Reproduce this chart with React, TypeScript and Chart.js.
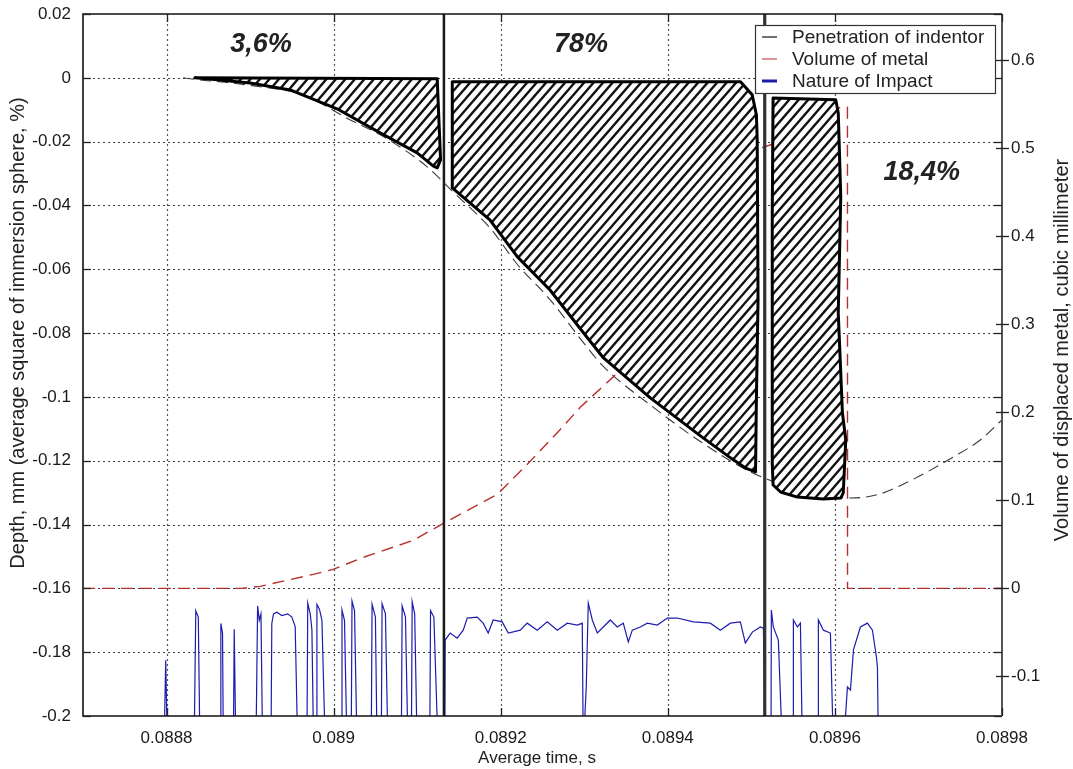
import React, { useEffect, useRef } from 'react';
import { Chart, registerables } from 'chart.js';

Chart.register(...registerables);

const FONT = '"Liberation Sans", Arial, Helvetica, sans-serif';

// ---- axes ----
const xTickValues = [0.0888, 0.089, 0.0892, 0.0894, 0.0896, 0.0898];
const xTickLabels = ['0.0888', '0.089', '0.0892', '0.0894', '0.0896', '0.0898'];
const yTickValues = [0.02, 0, -0.02, -0.04, -0.06, -0.08, -0.1, -0.12, -0.14, -0.16, -0.18, -0.2];
const yTickLabels = ['0.02', '0', '-0.02', '-0.04', '-0.06', '-0.08', '-0.1', '-0.12', '-0.14', '-0.16', '-0.18', '-0.2'];
const y2TickValues = [0.6, 0.5, 0.4, 0.3, 0.2, 0.1, 0, -0.1];
const y2TickLabels = ['0.6', '0.5', '0.4', '0.3', '0.2', '0.1', '0', '-0.1'];

const xTitle = 'Average time, s';
const yTitle = 'Depth, mm (average square of immersion sphere, %)';
const y2Title = 'Volume of displaced metal, cubic millimeter';
const seriesNames = ['Penetration of indentor', 'Volume of metal', 'Nature of Impact'];

// ---- Penetration of indentor (left axis) ----
const penetrationTime = [0.08882, 0.088837, 0.08887, 0.088912, 0.088963, 0.08902, 0.08906, 0.089112, 0.089142, 0.089187, 0.08922, 0.089259, 0.089299, 0.089323, 0.089379, 0.089439, 0.089499, 0.089559, 0.089619, 0.089654, 0.089687, 0.089742, 0.089774, 0.0898];
const penetrationDepth = [0, -0.0006, -0.0014, -0.0028, -0.0053, -0.0132, -0.0185, -0.0279, -0.0355, -0.047, -0.0585, -0.0695, -0.083, -0.0905, -0.1025, -0.114, -0.1235, -0.1292, -0.1317, -0.1304, -0.1267, -0.1188, -0.1135, -0.1072];

// ---- Volume of metal (right axis) ----
const volumeTime = [0.0887, 0.08889, 0.088912, 0.0889755, 0.0889994, 0.0890353, 0.0890952, 0.0891335, 0.0891958, 0.0892353, 0.0892748, 0.0892952, 0.0893252, 0.0893575, 0.0894389, 0.0895072, 0.0895251, 0.0895587, 0.0896066, 0.089615, 0.0896151, 0.0898];
const volumeValue = [0, 0, 0.0023, 0.0159, 0.0216, 0.0352, 0.0545, 0.075, 0.1068, 0.1443, 0.1841, 0.2057, 0.232, 0.26, 0.38, 0.499, 0.5045, 0.5216, 0.5466, 0.5466, 0, 0];

// ---- Nature of Impact (left axis) ----
const impactTime = [
  0.088797, 0.088799, 0.088801,
  0.088833, 0.088835, 0.088838, 0.08884,
  0.088864, 0.088865, 0.088867, 0.088868,
  0.08888, 0.088881, 0.088883,
  0.088907, 0.088909, 0.088911, 0.088913, 0.088915,
  0.088925, 0.088926, 0.088928, 0.088932, 0.088938, 0.088945, 0.08895, 0.088954, 0.088957,
  0.088968, 0.088969, 0.088972, 0.088974, 0.088976,
  0.088979, 0.08898, 0.088983, 0.088986, 0.08899,
  0.089009, 0.08901, 0.089013, 0.089016,
  0.089021, 0.089022, 0.089025, 0.089028,
  0.089045, 0.089046, 0.08905, 0.089052,
  0.089057, 0.089058, 0.089062, 0.089065,
  0.089081, 0.089082, 0.089086, 0.089089,
  0.089093, 0.089094, 0.089097, 0.0891,
  0.089115, 0.089116, 0.08912, 0.089125,
  0.089133, 0.0891335, 0.0891395, 0.0891479, 0.0891551, 0.0891599, 0.0891718, 0.089179, 0.089185, 0.089191, 0.0892018, 0.089209, 0.0892234, 0.0892317, 0.0892437, 0.0892557, 0.0892677, 0.0892796, 0.0892916, 0.0892976,
  0.0892988, 0.0893024, 0.0893048, 0.0893096, 0.0893156, 0.0893228, 0.0893311, 0.0893395, 0.0893467, 0.0893527, 0.0893575, 0.0893671, 0.0893754, 0.0893874, 0.0893994, 0.0894114, 0.0894305, 0.0894509, 0.0894629, 0.0894748, 0.0894868, 0.0894928, 0.0895012, 0.0895108, 0.0895144, 0.0895168,
  0.0895235, 0.0895239, 0.0895263, 0.0895323, 0.0895371,
  0.08955, 0.0895503, 0.0895551, 0.0895587, 0.0895611,
  0.08958, 0.0895802, 0.0895862, 0.0895946, 0.0895982,
  0.0896102, 0.089615, 0.0896186, 0.0896222, 0.0896305, 0.0896389, 0.0896449, 0.0896497, 0.0896509, 0.0896521,
];
const impactValue = [
  -0.21, -0.1825, -0.21,
  -0.21, -0.167, -0.169, -0.21,
  -0.21, -0.171, -0.174, -0.21,
  -0.21, -0.1728, -0.21,
  -0.21, -0.1655, -0.17, -0.168, -0.21,
  -0.21, -0.171, -0.168, -0.1675, -0.1685, -0.168, -0.169, -0.172, -0.21,
  -0.21, -0.1646, -0.168, -0.173, -0.21,
  -0.21, -0.165, -0.1665, -0.17, -0.21,
  -0.21, -0.1668, -0.17, -0.21,
  -0.21, -0.164, -0.167, -0.21,
  -0.21, -0.165, -0.169, -0.21,
  -0.21, -0.1648, -0.168, -0.21,
  -0.21, -0.1655, -0.169, -0.21,
  -0.21, -0.1642, -0.168, -0.21,
  -0.21, -0.167, -0.169, -0.21,
  -0.21, -0.1762, -0.174, -0.1756, -0.1731, -0.1693, -0.169, -0.1709, -0.174, -0.1699, -0.1705, -0.174, -0.1731, -0.1709, -0.1731, -0.1705, -0.1731, -0.1709, -0.1715, -0.1709,
  -0.21, -0.1909, -0.1646, -0.1699, -0.174, -0.1721, -0.1699, -0.1721, -0.1709, -0.1768, -0.1731, -0.1721, -0.1709, -0.1715, -0.1693, -0.1693, -0.1705, -0.1709, -0.1731, -0.1709, -0.1705, -0.1771, -0.1737, -0.1721, -0.1725, -0.21,
  -0.21, -0.1668, -0.1721, -0.1762, -0.21,
  -0.21, -0.1699, -0.1721, -0.1709, -0.21,
  -0.21, -0.1699, -0.1731, -0.174, -0.21,
  -0.21, -0.1909, -0.1919, -0.1793, -0.1721, -0.1709, -0.1731, -0.1815, -0.1847, -0.21,
];

// ---- hatched regions (left axis) ----
const hatch1Time = [0.088834, 0.089124, 0.089125, 0.089128, 0.089124, 0.089119, 0.0891, 0.08906, 0.089004, 0.088948, 0.0889, 0.088848];
const hatch1Depth = [0, -0.0003, -0.0069, -0.0257, -0.0282, -0.0276, -0.0235, -0.0179, -0.0097, -0.0038, -0.0016, -0.0003];
const hatch2Time = [0.089142, 0.089487, 0.089501, 0.089506, 0.089507, 0.089508, 0.089506, 0.089505, 0.089493, 0.089475, 0.089439, 0.089379, 0.089323, 0.089299, 0.089259, 0.08922, 0.089187, 0.089142];
const hatch2Depth = [-0.00125, -0.00125, -0.0053, -0.0116, -0.0194, -0.0696, -0.101, -0.1235, -0.1223, -0.1191, -0.1122, -0.1003, -0.0878, -0.0799, -0.0665, -0.0561, -0.0445, -0.0345];
const hatch3Time = [0.089526, 0.089601, 0.089604, 0.089607, 0.089604, 0.089609, 0.089613, 0.08961, 0.089607, 0.089586, 0.089555, 0.089535, 0.089526, 0.089525, 0.089525, 0.089525];
const hatch3Depth = [-0.0063, -0.0069, -0.011, -0.0373, -0.0737, -0.105, -0.1135, -0.1301, -0.1317, -0.132, -0.1314, -0.1298, -0.1276, -0.1207, -0.0843, -0.0423];

const boundaryTimes = [0.089132, 0.089516];
const shareLabels = ['3,6%', '78%', '18,4%'];
const shareTime = [0.088913, 0.089296, 0.089704];
const shareDepth = [0.0103, 0.0103, -0.0298];

const pts = (xs: number[], ys: number[]) => xs.map((x, i) => ({ x, y: ys[i] }));

const overlayPlugin = {
  id: 'overlay',
  beforeDatasetsDraw(chart: any) {
    const { ctx, chartArea: a, scales } = chart;
    const xs = scales.x, ys = scales.y;
    ctx.save();
    ctx.strokeStyle = '#3c3c3c';
    ctx.lineWidth = 1.2;
    ctx.setLineDash([2, 3]);
    yTickValues.forEach((v) => {
      if (v > 0.019 || v < -0.199) return;
      const py = Math.round(ys.getPixelForValue(v)) + 0.5;
      ctx.beginPath(); ctx.moveTo(a.left, py); ctx.lineTo(a.right, py); ctx.stroke();
    });
    ctx.strokeStyle = '#555';
    xTickValues.forEach((v) => {
      if (v > 0.08979) return;
      const px = Math.round(xs.getPixelForValue(v)) + 0.5;
      ctx.beginPath(); ctx.moveTo(px, a.top); ctx.lineTo(px, a.bottom); ctx.stroke();
    });
    ctx.restore();
  },
  afterDatasetsDraw(chart: any) {
    const { ctx, chartArea: a, scales } = chart;
    const xs = scales.x, ys = scales.y, y2 = scales.y2;

    // hatched regions
    const hatches = [[hatch1Time, hatch1Depth], [hatch2Time, hatch2Depth], [hatch3Time, hatch3Depth]];
    hatches.forEach(([ts, ds]) => {
      const p = ts.map((t, i) => ({ x: xs.getPixelForValue(t), y: ys.getPixelForValue(ds[i]) }));
      const path = () => {
        ctx.beginPath();
        p.forEach((q, i) => (i ? ctx.lineTo(q.x, q.y) : ctx.moveTo(q.x, q.y)));
        ctx.closePath();
      };
      ctx.save();
      path();
      ctx.fillStyle = '#fff';
      ctx.fill();
      ctx.save();
      path();
      ctx.clip();
      const minX = Math.min(...p.map((q) => q.x)), maxX = Math.max(...p.map((q) => q.x));
      const minY = Math.min(...p.map((q) => q.y)), maxY = Math.max(...p.map((q) => q.y));
      const slope = 1.15;
      const h = maxY - minY;
      const run = h / slope;
      ctx.strokeStyle = '#111';
      ctx.lineWidth = 2.4;
      for (let x0 = minX - run - 10; x0 <= maxX + 10; x0 += 9.5) {
        ctx.beginPath();
        ctx.moveTo(x0, maxY + 2);
        ctx.lineTo(x0 + run + 2 / slope, minY - 2);
        ctx.stroke();
      }
      ctx.restore();
      path();
      ctx.lineWidth = 3;
      ctx.lineJoin = 'round';
      ctx.strokeStyle = '#000';
      ctx.stroke();
      ctx.restore();
    });

    // boundary vertical lines
    ctx.save();
    boundaryTimes.forEach((t, i) => {
      const px = xs.getPixelForValue(t);
      ctx.strokeStyle = i === 0 ? '#1a1a1a' : '#333';
      ctx.lineWidth = i === 0 ? 2.5 : 3.2;
      ctx.beginPath(); ctx.moveTo(px, a.top); ctx.lineTo(px, a.bottom); ctx.stroke();
    });
    ctx.restore();

    // frame and tick marks
    ctx.save();
    ctx.strokeStyle = '#111';
    ctx.lineWidth = 1.6;
    ctx.beginPath();
    ctx.moveTo(a.right, a.top); ctx.lineTo(a.left, a.top); ctx.lineTo(a.left, a.bottom); ctx.lineTo(a.right, a.bottom);
    ctx.stroke();
    ctx.strokeStyle = '#555';
    ctx.lineWidth = 2;
    ctx.beginPath(); ctx.moveTo(a.right, a.top); ctx.lineTo(a.right, a.bottom); ctx.stroke();
    ctx.strokeStyle = '#222';
    ctx.lineWidth = 1.3;
    yTickValues.forEach((v) => {
      const py = Math.round(ys.getPixelForValue(v)) + 0.5;
      ctx.beginPath(); ctx.moveTo(a.left, py); ctx.lineTo(a.left + 8, py); ctx.stroke();
      ctx.beginPath(); ctx.moveTo(a.right, py); ctx.lineTo(a.right - 8, py); ctx.stroke();
    });
    xTickValues.forEach((v) => {
      const px = Math.round(xs.getPixelForValue(v)) + 0.5;
      ctx.beginPath(); ctx.moveTo(px, a.bottom); ctx.lineTo(px, a.bottom - 8); ctx.stroke();
      ctx.beginPath(); ctx.moveTo(px, a.top); ctx.lineTo(px, a.top + 8); ctx.stroke();
    });
    y2TickValues.forEach((v) => {
      const py = Math.round(y2.getPixelForValue(v)) + 0.5;
      ctx.beginPath(); ctx.moveTo(a.right - 6, py); ctx.lineTo(a.right + 7, py); ctx.stroke();
    });
    ctx.restore();

    // share labels
    ctx.save();
    ctx.font = `italic bold 27px ${FONT}`;
    ctx.fillStyle = '#222';
    ctx.textAlign = 'center';
    ctx.textBaseline = 'middle';
    shareLabels.forEach((s, i) => {
      ctx.fillText(s, xs.getPixelForValue(shareTime[i]), ys.getPixelForValue(shareDepth[i]));
    });
    ctx.restore();

    // legend
    ctx.save();
    const lx = a.right - 247, ly = a.top + 11, lw = 240, lh = 68;
    ctx.fillStyle = '#fff';
    ctx.fillRect(lx, ly, lw, lh);
    ctx.strokeStyle = '#333';
    ctx.lineWidth = 1.2;
    ctx.strokeRect(lx + 0.5, ly + 0.5, lw, lh);
    const colors = ['#111', '#c0504d', '#1c1ca8'];
    const widths = [1.2, 1.2, 3];
    ctx.font = `19px ${FONT}`;
    ctx.textBaseline = 'middle';
    ctx.textAlign = 'left';
    seriesNames.forEach((name, i) => {
      const cy = ly + 12 + i * 22;
      ctx.strokeStyle = colors[i];
      ctx.lineWidth = widths[i];
      ctx.beginPath(); ctx.moveTo(lx + 7, cy); ctx.lineTo(lx + 22, cy); ctx.stroke();
      ctx.fillStyle = '#222';
      ctx.fillText(name, lx + 37, cy + 1);
    });
    ctx.restore();

    // axis titles
    ctx.save();
    ctx.fillStyle = '#222';
    ctx.textAlign = 'center';
    ctx.textBaseline = 'middle';
    ctx.font = `20px ${FONT}`;
    ctx.save(); ctx.translate(18, 333); ctx.rotate(-Math.PI / 2); ctx.fillText(yTitle, 0, 0); ctx.restore();
    ctx.save(); ctx.translate(1062, 350); ctx.rotate(-Math.PI / 2); ctx.fillText(y2Title, 0, 0); ctx.restore();
    ctx.font = `17px ${FONT}`;
    ctx.fillText(xTitle, 537, 758);
    ctx.restore();
  },
};

export default function App() {
  const ref = useRef<HTMLCanvasElement>(null);
  useEffect(() => {
    const canvas = ref.current;
    if (!canvas) return;
    const tickFont = { family: FONT, size: 17 };
    const chart = new Chart(canvas, {
      type: 'line',
      data: {
        datasets: [
          {
            label: seriesNames[1],
            data: pts(volumeTime, volumeValue),
            yAxisID: 'y2',
            borderColor: '#b8302c',
            borderWidth: 1.4,
            borderDash: [12, 7],
            pointRadius: 0,
            fill: false,
          },
          {
            label: seriesNames[0],
            data: pts(penetrationTime, penetrationDepth),
            yAxisID: 'y',
            borderColor: '#3a3a3a',
            borderWidth: 1.1,
            borderDash: [11, 6],
            pointRadius: 0,
            fill: false,
            cubicInterpolationMode: 'monotone',
          },
          {
            label: seriesNames[2],
            data: pts(impactTime, impactValue),
            yAxisID: 'y',
            borderColor: '#1c1cb0',
            borderWidth: 1.2,
            pointRadius: 0,
            fill: false,
          },
        ],
      },
      options: {
        responsive: false,
        animation: false,
        devicePixelRatio: 1,
        layout: { padding: { top: 14, left: 0, right: 0, bottom: 0 } },
        plugins: { legend: { display: false }, tooltip: { enabled: false } },
        elements: { line: { tension: 0 } },
        scales: {
          x: {
            type: 'linear',
            position: 'bottom',
            min: 0.0887,
            max: 0.0898,
            afterBuildTicks: (s: any) => { s.ticks = xTickValues.map((v) => ({ value: v })); },
            afterFit: (s: any) => { s.height = 53; s.paddingLeft = 0; s.paddingRight = 0; },
            grid: { display: false, drawTicks: false },
            border: { display: false },
            ticks: {
              autoSkip: false,
              maxRotation: 0,
              padding: 12,
              color: '#1a1a1a',
              font: tickFont,
              callback: (_v: any, i: number) => xTickLabels[i],
            },
          },
          y: {
            type: 'linear',
            position: 'left',
            min: -0.2,
            max: 0.02,
            afterBuildTicks: (s: any) => { s.ticks = yTickValues.map((v) => ({ value: v })); },
            afterFit: (s: any) => { s.width = 83; s.paddingTop = 0; s.paddingBottom = 0; },
            grid: { display: false, drawTicks: false },
            border: { display: false },
            ticks: {
              autoSkip: false,
              padding: 12,
              color: '#1a1a1a',
              font: tickFont,
              callback: (_v: any, i: number) => yTickLabels[i],
            },
          },
          y2: {
            type: 'linear',
            position: 'right',
            min: -0.145,
            max: 0.6525,
            afterBuildTicks: (s: any) => { s.ticks = y2TickValues.map((v) => ({ value: v })); },
            afterFit: (s: any) => { s.width = 71; s.paddingTop = 0; s.paddingBottom = 0; },
            grid: { display: false, drawTicks: false },
            border: { display: false },
            ticks: {
              autoSkip: false,
              padding: 9,
              color: '#1a1a1a',
              font: tickFont,
              callback: (_v: any, i: number) => y2TickLabels[i],
            },
          },
        },
      },
      plugins: [overlayPlugin],
    } as any);
    return () => chart.destroy();
  }, []);
  return (
    <div style={{ position: 'absolute', left: 0, top: 0, width: 1073, height: 769, background: '#fff' }}>
      <canvas ref={ref} width={1073} height={769} style={{ display: 'block', width: 1073, height: 769 }} />
    </div>
  );
}
